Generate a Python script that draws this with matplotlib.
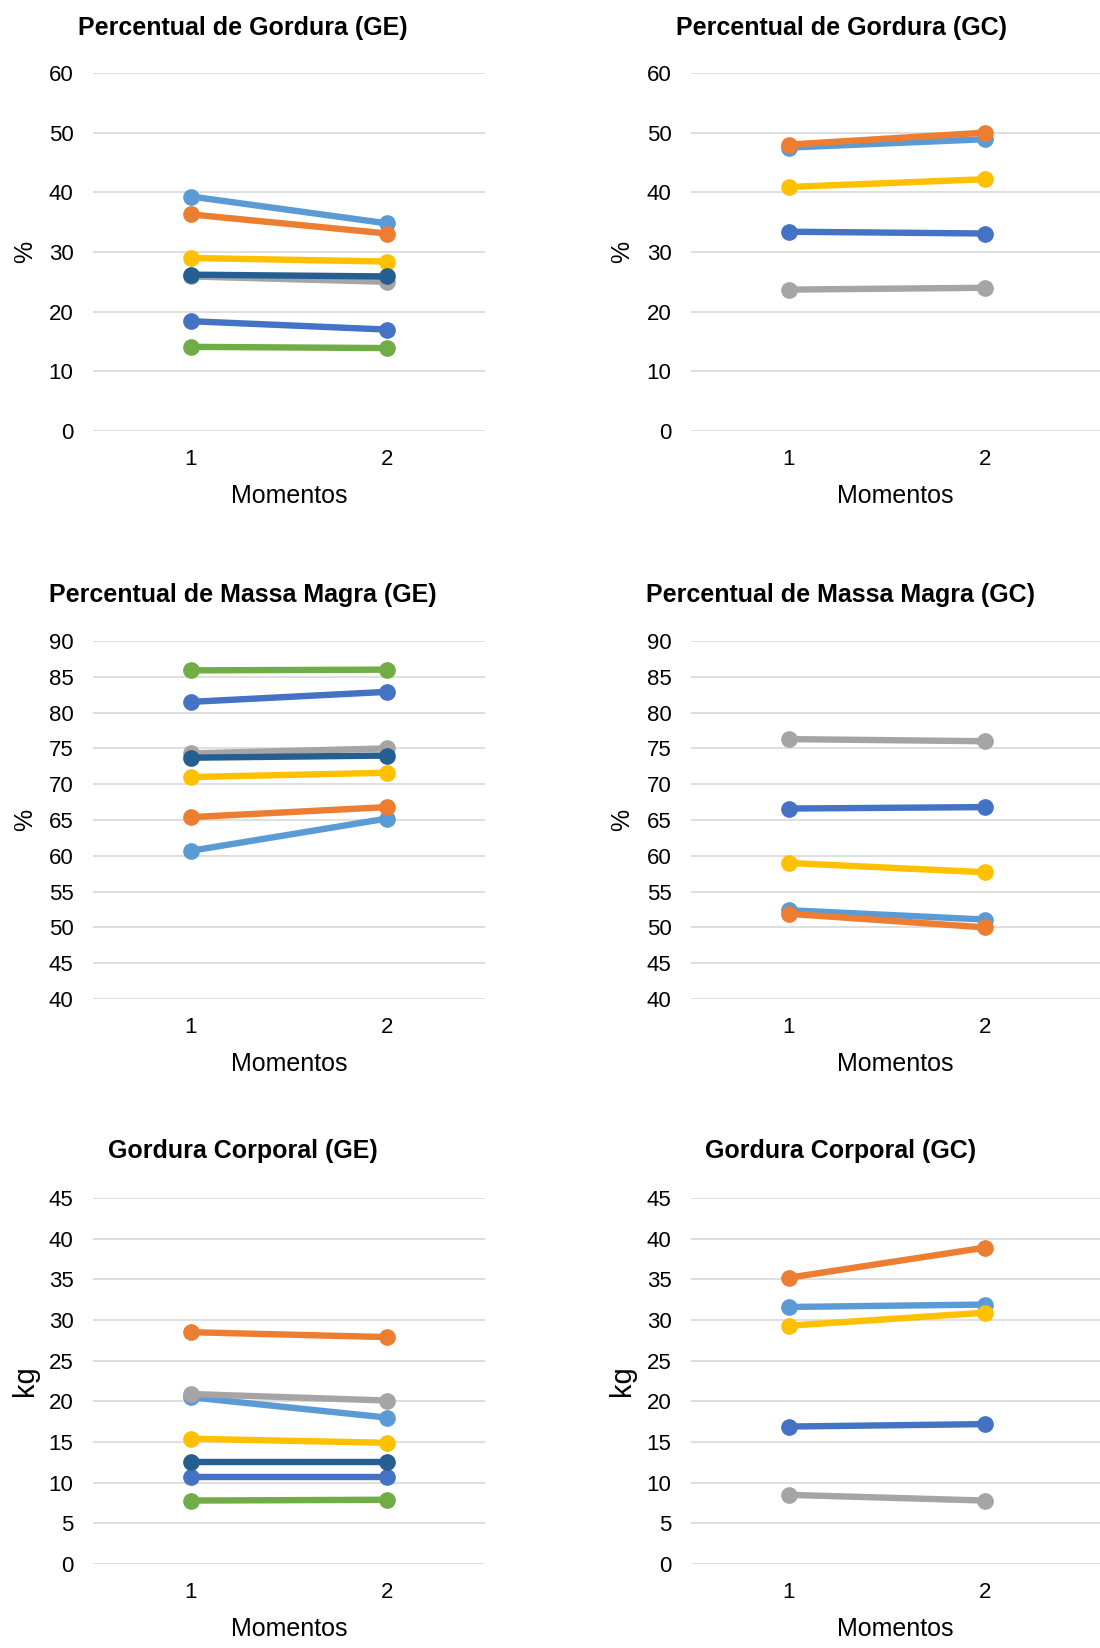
import matplotlib.pyplot as plt

plt.rcParams['font.family'] = ['Liberation Sans', 'DejaVu Sans']

momentos = [1, 2]

# cores das series (padrao Excel)
cores = {
    'azul_claro': '#5B9BD5',
    'laranja': '#ED7D31',
    'cinza': '#A5A5A5',
    'amarelo': '#FFC000',
    'azul': '#4472C4',
    'verde': '#70AD47',
    'azul_escuro': '#255E91',
}
ordem = ['verde', 'azul', 'azul_claro', 'laranja', 'cinza', 'amarelo', 'azul_escuro']

# Percentual de Gordura
pg_ge = {
    'azul_claro': [39.3, 34.8],
    'laranja': [36.3, 33.1],
    'amarelo': [29.0, 28.4],
    'cinza': [25.9, 25.0],
    'azul_escuro': [26.2, 25.9],
    'azul': [18.4, 17.0],
    'verde': [14.1, 13.9],
}
pg_gc = {
    'laranja': [48.0, 50.0],
    'azul_claro': [47.5, 48.9],
    'amarelo': [40.9, 42.2],
    'azul': [33.4, 33.1],
    'cinza': [23.7, 24.0],
}

# Percentual de Massa Magra
mm_ge = {
    'verde': [85.9, 86.0],
    'azul': [81.5, 82.9],
    'cinza': [74.3, 75.0],
    'azul_escuro': [73.7, 74.0],
    'amarelo': [71.0, 71.6],
    'laranja': [65.4, 66.8],
    'azul_claro': [60.7, 65.2],
}
mm_gc = {
    'cinza': [76.3, 76.0],
    'azul': [66.6, 66.8],
    'amarelo': [59.0, 57.7],
    'azul_claro': [52.4, 51.1],
    'laranja': [51.9, 50.0],
}

# Gordura Corporal (kg)
gc_ge = {
    'laranja': [28.5, 27.9],
    'cinza': [20.9, 20.1],
    'azul_claro': [20.5, 18.0],
    'amarelo': [15.4, 14.9],
    'azul_escuro': [12.6, 12.6],
    'azul': [10.7, 10.7],
    'verde': [7.8, 7.9],
}
gc_gc = {
    'laranja': [35.2, 38.9],
    'azul_claro': [31.6, 31.9],
    'amarelo': [29.3, 30.9],
    'azul': [16.9, 17.2],
    'cinza': [8.5, 7.8],
}

W, H = 1100, 1648
fig = plt.figure(figsize=(W / 100, H / 100), dpi=100)

paineis = [
    (pg_ge, 'Percentual de Gordura (GE)', '%', (0, 60, 10), 'L', (73, 431), 28),
    (pg_gc, 'Percentual de Gordura (GC)', '%', (0, 60, 10), 'R', (73, 431), 28),
    (mm_ge, 'Percentual de Massa Magra (GE)', '%', (40, 90, 5), 'L', (641, 999), 595),
    (mm_gc, 'Percentual de Massa Magra (GC)', '%', (40, 90, 5), 'R', (641, 999), 595),
    (gc_ge, 'Gordura Corporal (GE)', 'kg', (0, 45, 5), 'L', (1198, 1564), 1151),
    (gc_gc, 'Gordura Corporal (GC)', 'kg', (0, 45, 5), 'R', (1198, 1564), 1151),
]

for dados, titulo, unidade, (ymin, ymax, passo), col, (top, bot), ytit in paineis:
    if col == 'L':
        x0, x1, xmax, xtit, xun = 93, 485, 2.5, 243, 25
    else:
        x0, x1, xmax, xtit, xun = 691, 1100, 2.5 + 17 / 196, 841, 622
    ax = fig.add_axes([x0 / W, 1 - bot / H, (x1 - x0) / W, (bot - top) / H])
    for nome in ordem:
        if nome in dados:
            ax.plot(momentos, dados[nome], color=cores[nome], lw=4.6,
                    marker='o', ms=11, solid_capstyle='round')
    ax.set_xlim(0.5, xmax)
    ax.set_ylim(ymin, ymax)
    ax.set_yticks(range(ymin, ymax + 1, passo))
    ax.set_xticks(momentos)
    ax.grid(axis='y', color='#D9D9D9', lw=1.2)
    ax.set_axisbelow(True)
    for s in ax.spines.values():
        s.set_visible(False)
    ax.tick_params(length=0, labelsize=16, colors='#000000')
    ax.tick_params(axis='y', pad=14)
    ax.tick_params(axis='x', pad=13)
    ax.set_xlabel('Momentos', fontsize=18, labelpad=10)

    fig.text(xtit / W, 1 - ytit / H, titulo, fontsize=18, fontweight='bold',
             ha='center', va='center')
    fig.text(xun / W, 1 - ((top + bot) / 2) / H, unidade,
             fontsize=18 if unidade == '%' else 21, rotation=90,
             ha='center', va='center')

fig.savefig('out.png', dpi=100)
